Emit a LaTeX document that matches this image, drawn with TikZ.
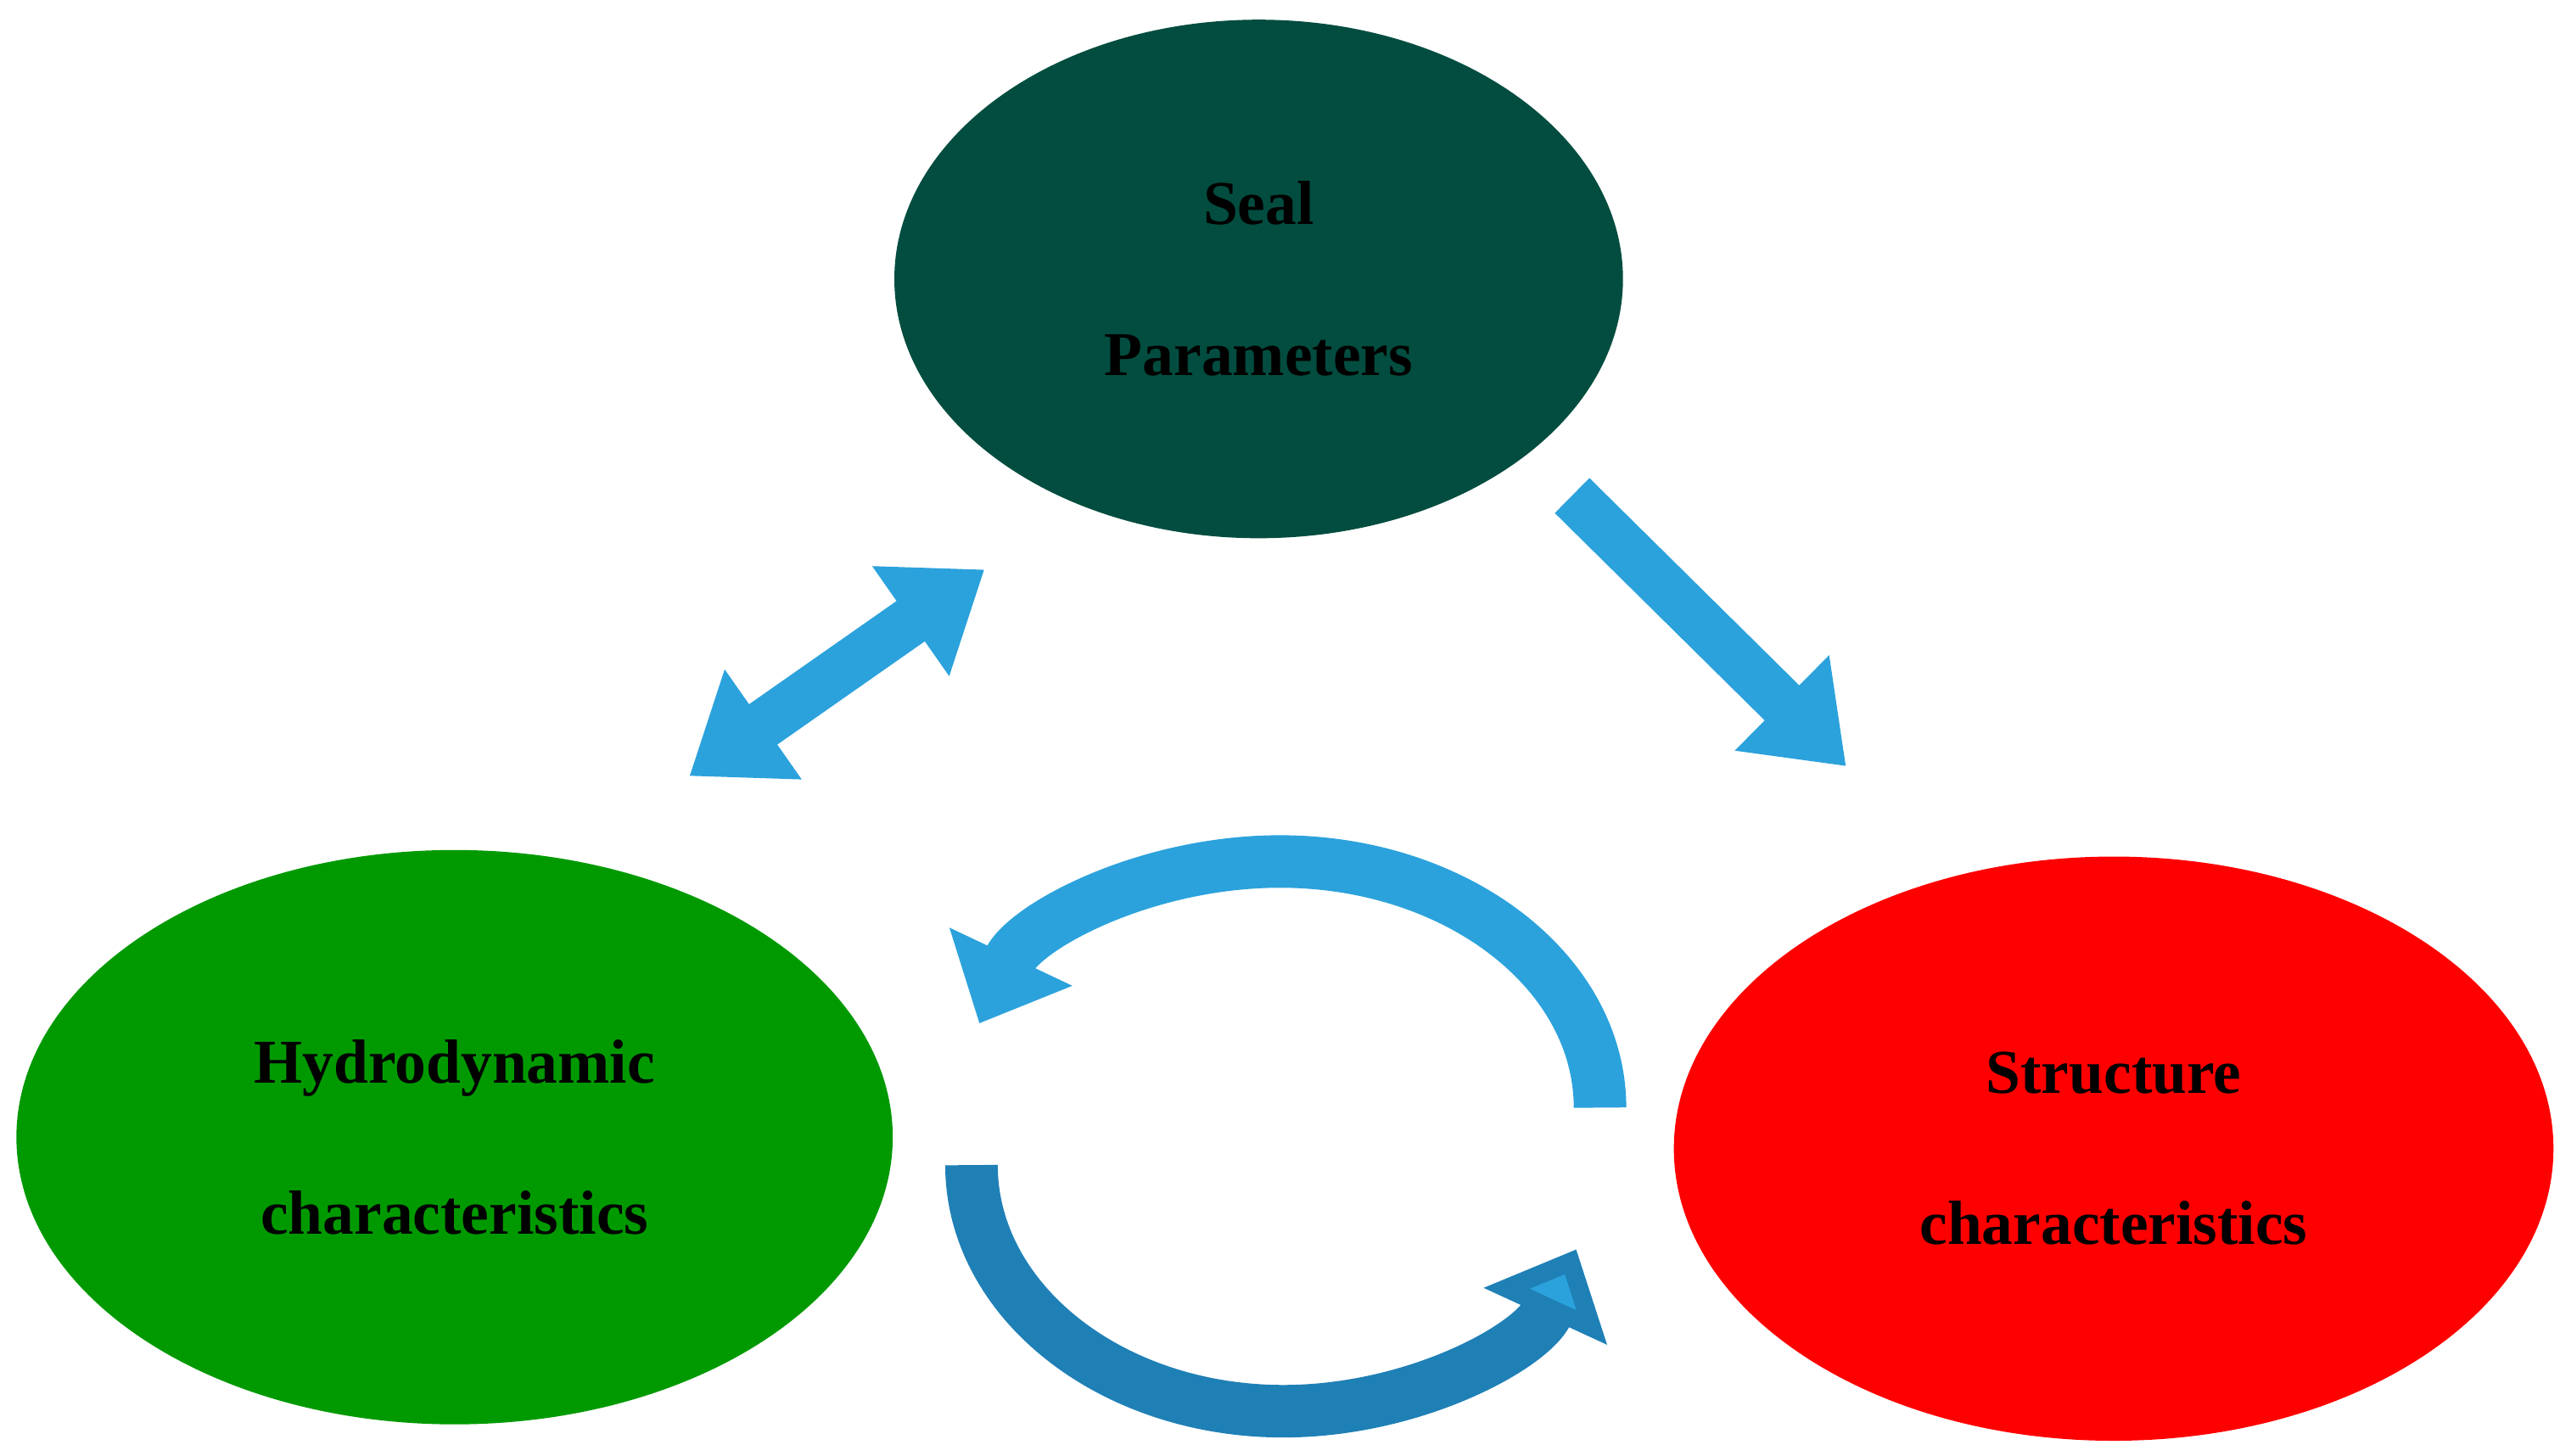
\documentclass[tikz,border=0pt]{standalone}
\usepackage{fontspec}
\setmainfont{Liberation Serif}
\usetikzlibrary{arrows.meta,shapes.geometric}
\definecolor{seal}{HTML}{024D3F}
\definecolor{hyd}{HTML}{009A00}
\definecolor{str}{HTML}{FF0000}
\definecolor{ab}{HTML}{2BA2DC}
\definecolor{abd}{HTML}{1F80B6}
\begin{document}
\begin{tikzpicture}[x=1pt,y=1pt,
  ell/.style={align=center,font=\fontsize{38}{92}\selectfont\bfseries},
  big/.style={draw=ab,line width=30pt,-{Triangle[length=55pt,width=78pt]}},
  bigd/.style={draw=ab,line width=30pt,{Triangle[length=55pt,width=78pt]}-{Triangle[length=55pt,width=78pt]}},
  circ/.style={line width=32pt,-{Triangle[length=45pt,width=80pt]}}]
\useasboundingbox (0,0) rectangle (1560,887);
\fill[seal] (767,717) ellipse [x radius=222, y radius=158];
\fill[hyd] (277,194) ellipse [x radius=267, y radius=175];
\fill[str] (1288,187) ellipse [x radius=268, y radius=178];
\node[ell] (seal) at (767,717) {Seal\\Parameters};
\node[ell] (hydro) at (277,194) {Hydrodynamic\\characteristics};
\node[ell] (struct) at (1288,187) {Structure\\characteristics};
\coordinate (a1) at (420,414);
\coordinate (a2) at (600,540);
\coordinate (b1) at (958,585);
\coordinate (b2) at (1125,420);
\draw[bigd] (a1) -- (a2);
\draw[big] (b1) -- (b2);
\draw[circ,draw=ab] (975,212) arc[start angle=0,end angle=160,x radius=195,y radius=150];
\draw[circ,draw=abd,-{Triangle[length=45pt,width=80pt,fill=ab]}] (592,177) arc[start angle=180,end angle=340,x radius=190,y radius=150];
\end{tikzpicture}
\end{document}
